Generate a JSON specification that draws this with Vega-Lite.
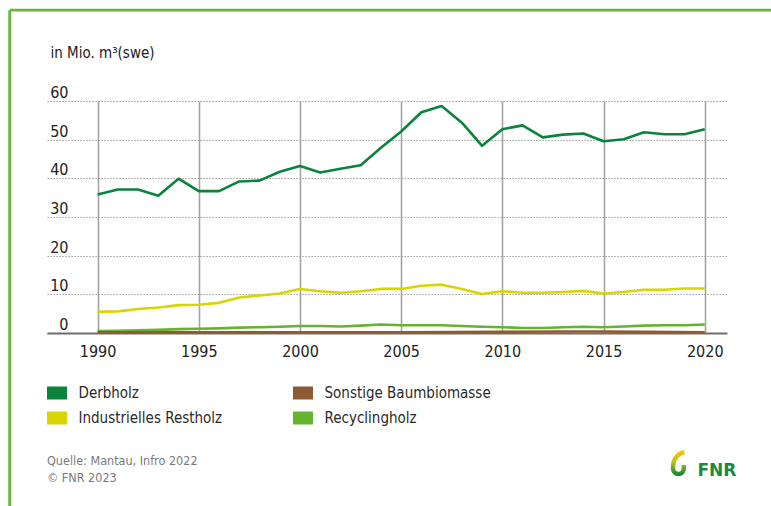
{
  "$schema": "https://vega.github.io/schema/vega-lite/v6.json",
  "autosize": {"type": "none"},
  "width": 680,
  "height": 232,
  "padding": {"left": 47, "top": 101, "right": 44, "bottom": 173},
  "background": "white",
  "config": {
    "view": {"stroke": null},
    "font": "DejaVu Sans Condensed, sans-serif",
    "axisX": {
      "grid": true,
      "gridColor": "#a3a3a3",
      "gridWidth": 1.6,
      "ticks": false,
      "domainColor": "#6e6e6e",
      "domainWidth": 2,
      "labelFontSize": 16,
      "labelColor": "#222222",
      "labelPadding": 10,
      "labelFlush": false,
      "labelOverlap": false,
      "format": "d",
      "zindex": 0
    },
    "axisY": {
      "titleAngle": 0,
      "titleAlign": "left",
      "titleBaseline": "alphabetic",
      "titleX": 3,
      "titleY": -44,
      "titleFontSize": 15,
      "titleFontWeight": "normal",
      "titleColor": "#222222",
      "grid": true,
      "gridColor": "#8a8a8a",
      "gridDash": [1.2, 1.8],
      "gridWidth": 1.2,
      "domain": false,
      "ticks": false,
      "labelAlign": "right",
      "labelBaseline": "alphabetic",
      "labelOffset": -3.5,
      "labelPadding": -21,
      "labelFontSize": 16,
      "labelColor": "#222222",
      "labelOverlap": false,
      "zindex": 0
    }
  },
  "datasets": {
    "wood": [
      {"year": 1990, "series": "Derbholz", "value": 35.8},
      {"year": 1991, "series": "Derbholz", "value": 37.1},
      {"year": 1992, "series": "Derbholz", "value": 37.1},
      {"year": 1993, "series": "Derbholz", "value": 35.5},
      {"year": 1994, "series": "Derbholz", "value": 39.9},
      {"year": 1995, "series": "Derbholz", "value": 36.7},
      {"year": 1996, "series": "Derbholz", "value": 36.7},
      {"year": 1997, "series": "Derbholz", "value": 39.2},
      {"year": 1998, "series": "Derbholz", "value": 39.4},
      {"year": 1999, "series": "Derbholz", "value": 41.7},
      {"year": 2000, "series": "Derbholz", "value": 43.2},
      {"year": 2001, "series": "Derbholz", "value": 41.5},
      {"year": 2002, "series": "Derbholz", "value": 42.5},
      {"year": 2003, "series": "Derbholz", "value": 43.4},
      {"year": 2004, "series": "Derbholz", "value": 47.9},
      {"year": 2005, "series": "Derbholz", "value": 52.1},
      {"year": 2006, "series": "Derbholz", "value": 57.1},
      {"year": 2007, "series": "Derbholz", "value": 58.7},
      {"year": 2008, "series": "Derbholz", "value": 54.4},
      {"year": 2009, "series": "Derbholz", "value": 48.4},
      {"year": 2010, "series": "Derbholz", "value": 52.7},
      {"year": 2011, "series": "Derbholz", "value": 53.7},
      {"year": 2012, "series": "Derbholz", "value": 50.6},
      {"year": 2013, "series": "Derbholz", "value": 51.3},
      {"year": 2014, "series": "Derbholz", "value": 51.6},
      {"year": 2015, "series": "Derbholz", "value": 49.6},
      {"year": 2016, "series": "Derbholz", "value": 50.1},
      {"year": 2017, "series": "Derbholz", "value": 51.9},
      {"year": 2018, "series": "Derbholz", "value": 51.4},
      {"year": 2019, "series": "Derbholz", "value": 51.4},
      {"year": 2020, "series": "Derbholz", "value": 52.7},
      {"year": 1990, "series": "Industrielles Restholz", "value": 5.5},
      {"year": 1991, "series": "Industrielles Restholz", "value": 5.6},
      {"year": 1992, "series": "Industrielles Restholz", "value": 6.2},
      {"year": 1993, "series": "Industrielles Restholz", "value": 6.6},
      {"year": 1994, "series": "Industrielles Restholz", "value": 7.2},
      {"year": 1995, "series": "Industrielles Restholz", "value": 7.3},
      {"year": 1996, "series": "Industrielles Restholz", "value": 7.8},
      {"year": 1997, "series": "Industrielles Restholz", "value": 9.2},
      {"year": 1998, "series": "Industrielles Restholz", "value": 9.7},
      {"year": 1999, "series": "Industrielles Restholz", "value": 10.2},
      {"year": 2000, "series": "Industrielles Restholz", "value": 11.4},
      {"year": 2001, "series": "Industrielles Restholz", "value": 10.8},
      {"year": 2002, "series": "Industrielles Restholz", "value": 10.4},
      {"year": 2003, "series": "Industrielles Restholz", "value": 10.8},
      {"year": 2004, "series": "Industrielles Restholz", "value": 11.4},
      {"year": 2005, "series": "Industrielles Restholz", "value": 11.4},
      {"year": 2006, "series": "Industrielles Restholz", "value": 12.2},
      {"year": 2007, "series": "Industrielles Restholz", "value": 12.5},
      {"year": 2008, "series": "Industrielles Restholz", "value": 11.4},
      {"year": 2009, "series": "Industrielles Restholz", "value": 10.1},
      {"year": 2010, "series": "Industrielles Restholz", "value": 10.8},
      {"year": 2011, "series": "Industrielles Restholz", "value": 10.4},
      {"year": 2012, "series": "Industrielles Restholz", "value": 10.4},
      {"year": 2013, "series": "Industrielles Restholz", "value": 10.6},
      {"year": 2014, "series": "Industrielles Restholz", "value": 10.9},
      {"year": 2015, "series": "Industrielles Restholz", "value": 10.2},
      {"year": 2016, "series": "Industrielles Restholz", "value": 10.6},
      {"year": 2017, "series": "Industrielles Restholz", "value": 11.2},
      {"year": 2018, "series": "Industrielles Restholz", "value": 11.2},
      {"year": 2019, "series": "Industrielles Restholz", "value": 11.5},
      {"year": 2020, "series": "Industrielles Restholz", "value": 11.5},
      {"year": 1990, "series": "Recyclingholz", "value": 0.5},
      {"year": 1991, "series": "Recyclingholz", "value": 0.6},
      {"year": 1992, "series": "Recyclingholz", "value": 0.7},
      {"year": 1993, "series": "Recyclingholz", "value": 0.8},
      {"year": 1994, "series": "Recyclingholz", "value": 1.0},
      {"year": 1995, "series": "Recyclingholz", "value": 1.1},
      {"year": 1996, "series": "Recyclingholz", "value": 1.2},
      {"year": 1997, "series": "Recyclingholz", "value": 1.4},
      {"year": 1998, "series": "Recyclingholz", "value": 1.5},
      {"year": 1999, "series": "Recyclingholz", "value": 1.6},
      {"year": 2000, "series": "Recyclingholz", "value": 1.8},
      {"year": 2001, "series": "Recyclingholz", "value": 1.8},
      {"year": 2002, "series": "Recyclingholz", "value": 1.7},
      {"year": 2003, "series": "Recyclingholz", "value": 1.9},
      {"year": 2004, "series": "Recyclingholz", "value": 2.2},
      {"year": 2005, "series": "Recyclingholz", "value": 2.0},
      {"year": 2006, "series": "Recyclingholz", "value": 2.0},
      {"year": 2007, "series": "Recyclingholz", "value": 2.0},
      {"year": 2008, "series": "Recyclingholz", "value": 1.8},
      {"year": 2009, "series": "Recyclingholz", "value": 1.6},
      {"year": 2010, "series": "Recyclingholz", "value": 1.5},
      {"year": 2011, "series": "Recyclingholz", "value": 1.3},
      {"year": 2012, "series": "Recyclingholz", "value": 1.3},
      {"year": 2013, "series": "Recyclingholz", "value": 1.5},
      {"year": 2014, "series": "Recyclingholz", "value": 1.6},
      {"year": 2015, "series": "Recyclingholz", "value": 1.5},
      {"year": 2016, "series": "Recyclingholz", "value": 1.7},
      {"year": 2017, "series": "Recyclingholz", "value": 1.9},
      {"year": 2018, "series": "Recyclingholz", "value": 2.0},
      {"year": 2019, "series": "Recyclingholz", "value": 2.0},
      {"year": 2020, "series": "Recyclingholz", "value": 2.2},
      {"year": 1990, "series": "Sonstige Baumbiomasse", "value": 0.2},
      {"year": 1995, "series": "Sonstige Baumbiomasse", "value": 0.2},
      {"year": 2000, "series": "Sonstige Baumbiomasse", "value": 0.2},
      {"year": 2005, "series": "Sonstige Baumbiomasse", "value": 0.2},
      {"year": 2010, "series": "Sonstige Baumbiomasse", "value": 0.3},
      {"year": 2013, "series": "Sonstige Baumbiomasse", "value": 0.4},
      {"year": 2015, "series": "Sonstige Baumbiomasse", "value": 0.4},
      {"year": 2017, "series": "Sonstige Baumbiomasse", "value": 0.3},
      {"year": 2020, "series": "Sonstige Baumbiomasse", "value": 0.2}
    ],
    "frame": [{"x1": 1985.66, "x2": 2026, "ytop": 83.5, "ybot": -50}],
    "logo": [{"x": 2020.6, "y": -37, "label": "FNR"}],
    "swirl": [{"x": 2018.7, "y": -33.8}],
    "source": [
      {"x": 1987.5, "y": -34.1, "label": "Quelle: Mantau, Infro 2022"},
      {"x": 1987.5, "y": -38.5, "label": "© FNR 2023"}
    ]
  },
  "layer": [
    {
      "data": {"name": "wood"},
      "mark": {"type": "line", "strokeWidth": 2.6, "strokeJoin": "round"},
      "encoding": {
        "x": {
          "field": "year",
          "type": "quantitative",
          "scale": {"domain": [1987.5, 2021.1], "nice": false, "zero": false},
          "axis": {"values": [1990, 1995, 2000, 2005, 2010, 2015, 2020], "title": null}
        },
        "y": {
          "field": "value",
          "type": "quantitative",
          "scale": {"domain": [0, 60], "nice": false},
          "axis": {"values": [0, 10, 20, 30, 40, 50, 60], "title": "in Mio. m³(swe)"}
        },
        "color": {
          "field": "series",
          "type": "nominal",
          "scale": {
            "domain": ["Derbholz", "Industrielles Restholz", "Sonstige Baumbiomasse", "Recyclingholz"],
            "range": ["#0a843d", "#d8d500", "#8e5a32", "#66b32e"]
          },
          "legend": {
            "orient": "none",
            "legendX": 0,
            "legendY": 282,
            "columns": 2,
            "title": null,
            "symbolType": "M-1,-0.65h2v1.3h-2z",
            "symbolSize": 400,
            "symbolStrokeWidth": 0,
            "symbolOpacity": 1,
            "labelFontSize": 15,
            "labelColor": "#2a2a2a",
            "labelOffset": 11.5,
            "rowPadding": 7,
            "columnPadding": 70,
            "labelLimit": 300,
            "encode": {
              "symbols": {
                "update": {
                  "fill": {"scale": "color", "field": "value"},
                  "fillOpacity": {"value": 1},
                  "strokeWidth": {"value": 0}
                }
              }
            }
          }
        },
        "detail": {"field": "series"}
      }
    },
    {
      "data": {"name": "frame"},
      "mark": {"type": "rule", "color": "#6cb33f", "strokeWidth": 3},
      "encoding": {
        "x": {"field": "x1", "type": "quantitative", "axis": {"values": [1990, 1995, 2000, 2005, 2010, 2015, 2020], "title": null}},
        "y": {"field": "ytop", "type": "quantitative", "axis": {"values": [0, 10, 20, 30, 40, 50, 60], "title": "in Mio. m³(swe)"}},
        "y2": {"field": "ybot"}
      }
    },
    {
      "data": {"name": "frame"},
      "mark": {"type": "rule", "color": "#6cb33f", "strokeWidth": 2.6},
      "encoding": {
        "x": {"field": "x1", "type": "quantitative", "axis": {"values": [1990, 1995, 2000, 2005, 2010, 2015, 2020], "title": null}},
        "x2": {"field": "x2"},
        "y": {"field": "ytop", "type": "quantitative", "axis": {"values": [0, 10, 20, 30, 40, 50, 60], "title": "in Mio. m³(swe)"}}
      }
    },
    {
      "data": {"name": "source"},
      "mark": {"type": "text", "fontSize": 12.5, "color": "#7a7a7a", "baseline": "alphabetic", "align": "left"},
      "encoding": {
        "x": {"field": "x", "type": "quantitative", "axis": {"values": [1990, 1995, 2000, 2005, 2010, 2015, 2020], "title": null}},
        "y": {"field": "y", "type": "quantitative", "axis": {"values": [0, 10, 20, 30, 40, 50, 60], "title": "in Mio. m³(swe)"}},
        "text": {"field": "label"}
      }
    },
    {
      "data": {"name": "logo"},
      "mark": {"type": "text", "fontSize": 17, "fontWeight": "bold", "color": "#1a8a3c", "baseline": "alphabetic", "align": "center", "font": "DejaVu Sans"},
      "encoding": {
        "x": {"field": "x", "type": "quantitative", "axis": {"values": [1990, 1995, 2000, 2005, 2010, 2015, 2020], "title": null}},
        "y": {"field": "y", "type": "quantitative", "axis": {"values": [0, 10, 20, 30, 40, 50, 60], "title": "in Mio. m³(swe)"}},
        "text": {"field": "label"}
      }
    },
    {
      "data": {"name": "swirl"},
      "mark": {
        "type": "point",
        "shape": "M0.5,-0.95 C-0.1,-0.85 -0.5,-0.3 -0.45,0.4 A0.45,0.45 0 1 0 0.45,0.4 L0.45,0.1",
        "size": 576,
        "filled": false,
        "opacity": 1,
        "strokeWidth": 4.5,
        "strokeCap": "butt",
        "stroke": {
          "gradient": "linear",
          "x1": 0, "y1": 0, "x2": 0, "y2": 1,
          "stops": [
            {"offset": 0, "color": "#f4c400"},
            {"offset": 0.45, "color": "#b8c81a"},
            {"offset": 1, "color": "#1a8a3c"}
          ]
        }
      },
      "encoding": {
        "x": {"field": "x", "type": "quantitative", "axis": {"values": [1990, 1995, 2000, 2005, 2010, 2015, 2020], "title": null}},
        "y": {"field": "y", "type": "quantitative", "axis": {"values": [0, 10, 20, 30, 40, 50, 60], "title": "in Mio. m³(swe)"}}
      }
    }
  ]
}
